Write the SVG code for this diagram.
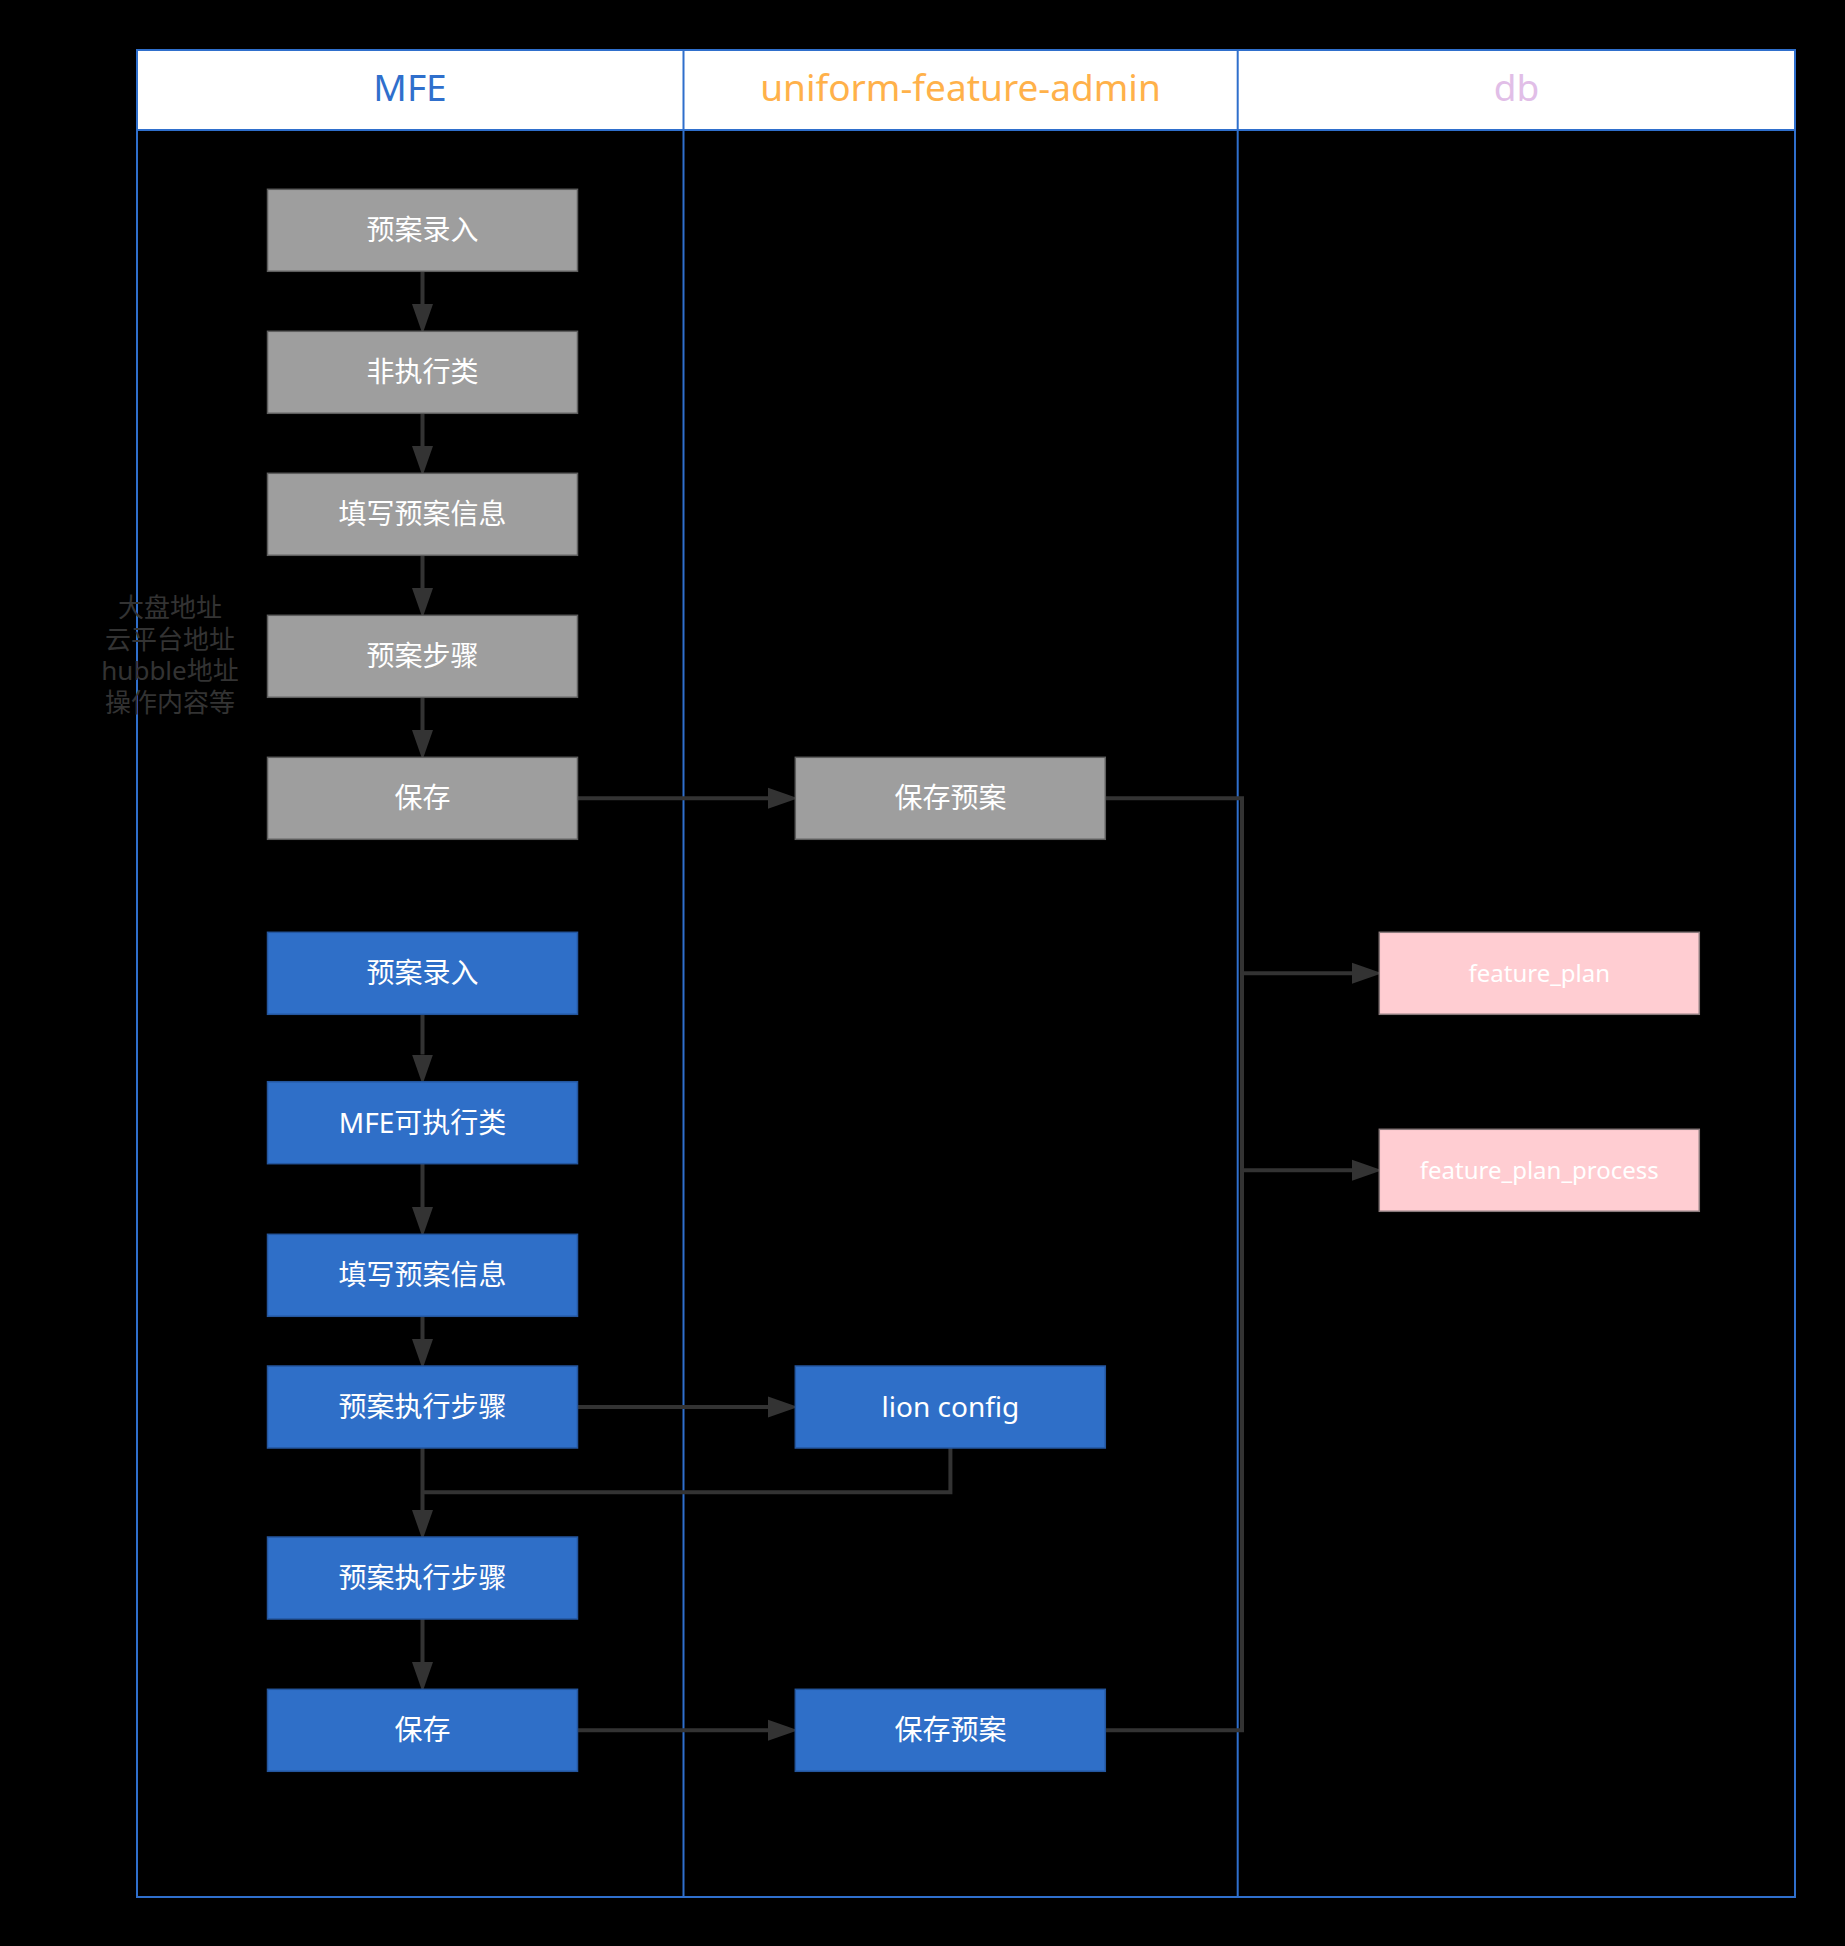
<svg xmlns="http://www.w3.org/2000/svg" width="1845" height="1946" viewBox="0 0 1845 1946">
  <defs>
    <marker id="arr" markerUnits="userSpaceOnUse" markerWidth="30" markerHeight="22" viewBox="0 0 30 22" refX="0" refY="11" orient="auto">
      <path d="M0,0.5 L30,11 L0,21.5 Z" fill="#333333"/>
    </marker>
    <style>
      .lane { fill: none; stroke: #2F6FCC; stroke-width: 2; }
      .hdr { font-family: "Noto Sans", "Noto Sans CJK SC", sans-serif; font-size: 37px; text-anchor: middle; }
      .gray rect { fill: #9E9E9E; stroke: #5E5E5E; stroke-width: 1.5; }
      .blue rect { fill: #2F6FC8; stroke: #24569E; stroke-width: 1.5; }
      .pink rect { fill: #FFCDD2; stroke: #8A7A7C; stroke-width: 1.5; }
      .node text { font-family: "Noto Sans", "Noto Sans CJK SC", sans-serif; font-size: 28px; fill: #FFFFFF; text-anchor: middle; }
      .pink text { font-size: 24px; }
      .conn { fill: none; stroke: #333333; stroke-width: 4; }
      .note { font-family: "Noto Sans", "Noto Sans CJK SC", sans-serif; font-size: 26px; fill: #333333; text-anchor: middle; }
    </style>
  </defs>
  <rect x="0" y="0" width="1845" height="1946" fill="#000000"/>

  <g id="lanes">
    <rect x="137" y="50" width="1658" height="80" fill="#FFFFFF"/>
    <rect class="lane" x="137" y="50" width="1658" height="1847" stroke-width="2.5"/>
    <line class="lane" x1="137" y1="130" x2="1795" y2="130" stroke-width="3"/>
    <line class="lane" x1="683.5" y1="50" x2="683.5" y2="1897"/>
    <line class="lane" x1="1237.7" y1="50" x2="1237.7" y2="1897"/>
    <text class="hdr" x="410" y="101" fill="#2F6FCC">MFE</text>
    <text class="hdr" x="960.5" y="101" fill="#FFB14A">uniform-feature-admin</text>
    <text class="hdr" x="1516.5" y="101" fill="#E1BEE7">db</text>
  </g>

  <g id="note">
    <text class="note" x="170" y="617">大盘地址</text>
    <text class="note" x="170" y="649">云平台地址</text>
    <text class="note" x="170" y="680">hubble地址</text>
    <text class="note" x="170" y="712">操作内容等</text>
  </g>

  <g id="connectors">
    <line class="conn" x1="422.5" y1="271.3" x2="422.5" y2="304" marker-end="url(#arr)"/>
    <line class="conn" x1="422.5" y1="413.3" x2="422.5" y2="446" marker-end="url(#arr)"/>
    <line class="conn" x1="422.5" y1="555.3" x2="422.5" y2="588" marker-end="url(#arr)"/>
    <line class="conn" x1="422.5" y1="697.3" x2="422.5" y2="730" marker-end="url(#arr)"/>
    <line class="conn" x1="422.5" y1="1014.3" x2="422.5" y2="1054.5" marker-end="url(#arr)"/>
    <line class="conn" x1="422.5" y1="1163.3" x2="422.5" y2="1207" marker-end="url(#arr)"/>
    <line class="conn" x1="422.5" y1="1316.3" x2="422.5" y2="1339" marker-end="url(#arr)"/>
    <line class="conn" x1="422.5" y1="1447.7" x2="422.5" y2="1510" marker-end="url(#arr)"/>
    <line class="conn" x1="422.5" y1="1618.7" x2="422.5" y2="1662" marker-end="url(#arr)"/>
    <line class="conn" x1="577.5" y1="798.3" x2="768" y2="798.3" marker-end="url(#arr)"/>
    <line class="conn" x1="577.5" y1="1407" x2="768" y2="1407" marker-end="url(#arr)"/>
    <line class="conn" x1="577.5" y1="1730.3" x2="768" y2="1730.3" marker-end="url(#arr)"/>
    <path class="conn" d="M1105.5,798.3 L1242,798.3 L1242,1730.3 L1105.5,1730.3"/>
    <line class="conn" x1="1242" y1="973.3" x2="1352" y2="973.3" marker-end="url(#arr)"/>
    <line class="conn" x1="1242" y1="1170.3" x2="1352" y2="1170.3" marker-end="url(#arr)"/>
    <path class="conn" d="M950.4,1447.7 L950.4,1492.3 L422.5,1492.3"/>
  </g>

  <g id="n1" class="node gray"><rect x="267.5" y="189.3" width="310" height="82"/><text x="422.5" y="240.3">预案录入</text></g>
  <g id="n2" class="node gray"><rect x="267.5" y="331.3" width="310" height="82"/><text x="422.5" y="382.3">非执行类</text></g>
  <g id="n3" class="node gray"><rect x="267.5" y="473.3" width="310" height="82"/><text x="422.5" y="524.3">填写预案信息</text></g>
  <g id="n4" class="node gray"><rect x="267.5" y="615.3" width="310" height="82"/><text x="422.5" y="666.3">预案步骤</text></g>
  <g id="n5" class="node gray"><rect x="267.5" y="757.3" width="310" height="82"/><text x="422.5" y="808.3">保存</text></g>
  <g id="n6" class="node gray"><rect x="795.3" y="757.3" width="310" height="82"/><text x="950.4" y="808.3">保存预案</text></g>

  <g id="b1" class="node blue"><rect x="267.5" y="932.3" width="310" height="82"/><text x="422.5" y="983.3">预案录入</text></g>
  <g id="b2" class="node blue"><rect x="267.5" y="1081.7" width="310" height="82"/><text x="422.5" y="1132.7">MFE可执行类</text></g>
  <g id="b3" class="node blue"><rect x="267.5" y="1234.3" width="310" height="82"/><text x="422.5" y="1285.3">填写预案信息</text></g>
  <g id="b4" class="node blue"><rect x="267.5" y="1366" width="310" height="82"/><text x="422.5" y="1417">预案执行步骤</text></g>
  <g id="b5" class="node blue"><rect x="795.3" y="1366" width="310" height="82"/><text x="950.4" y="1417">lion config</text></g>
  <g id="b6" class="node blue"><rect x="267.5" y="1537" width="310" height="82"/><text x="422.5" y="1588">预案执行步骤</text></g>
  <g id="b7" class="node blue"><rect x="267.5" y="1689.3" width="310" height="82"/><text x="422.5" y="1740.3">保存</text></g>
  <g id="b8" class="node blue"><rect x="795.3" y="1689.3" width="310" height="82"/><text x="950.4" y="1740.3">保存预案</text></g>

  <g id="d1" class="node pink"><rect x="1379.3" y="932.3" width="320" height="82"/><text x="1539.3" y="981.5">feature_plan</text></g>
  <g id="d2" class="node pink"><rect x="1379.3" y="1129.3" width="320" height="82"/><text x="1539.3" y="1178.5">feature_plan_process</text></g>
</svg>
